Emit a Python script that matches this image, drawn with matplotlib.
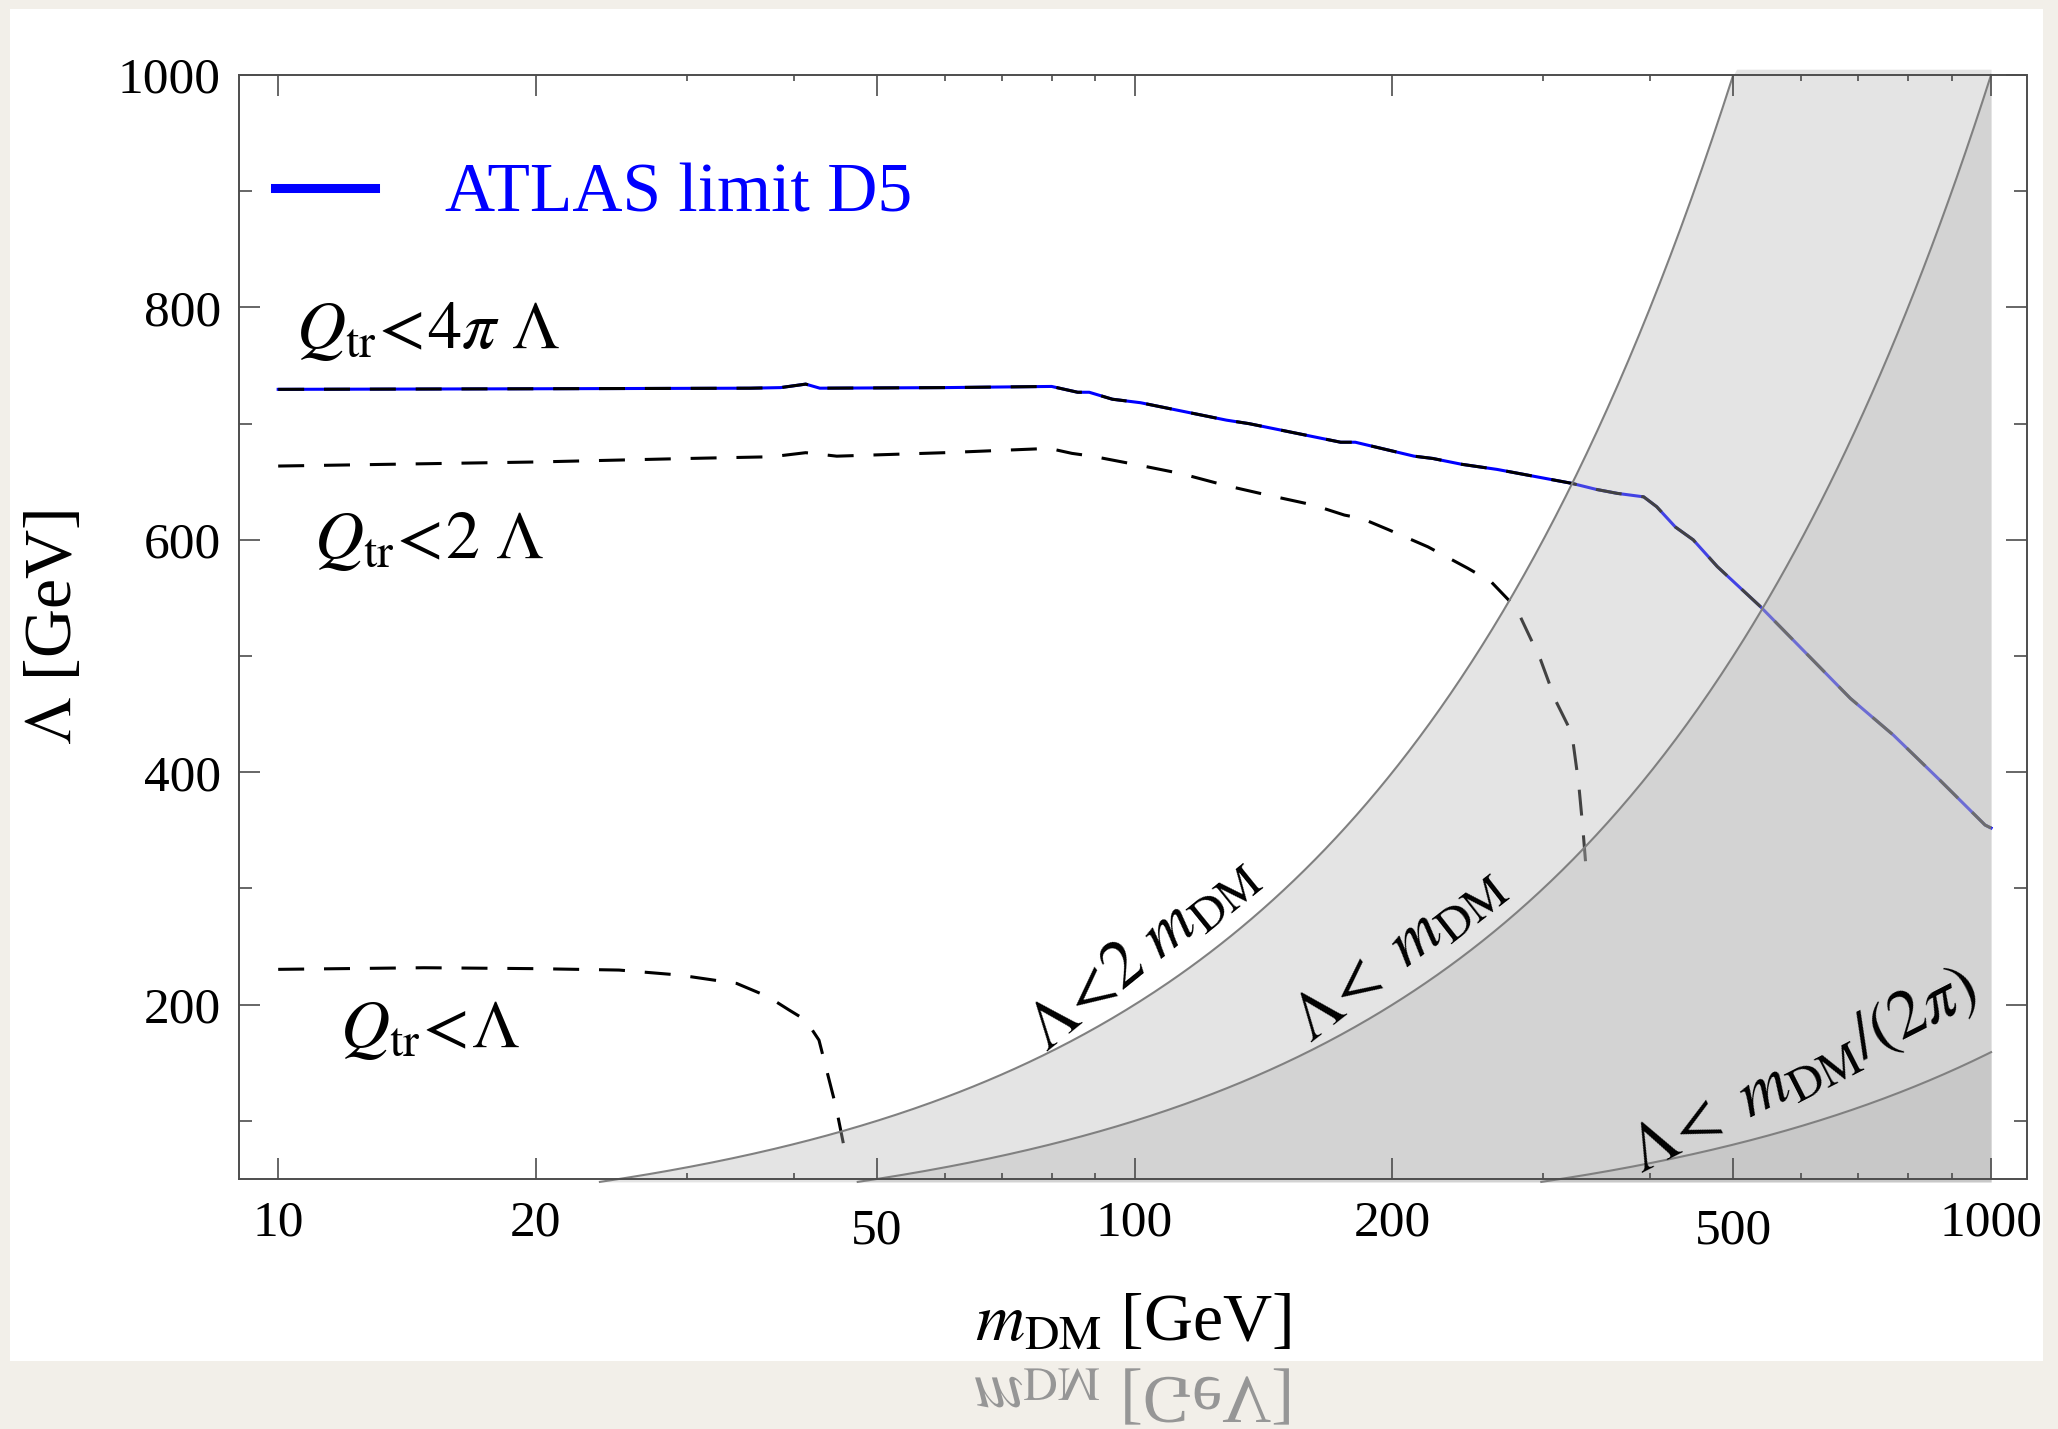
import numpy as np
import matplotlib
matplotlib.use("Agg")
import matplotlib.pyplot as plt
from matplotlib.lines import Line2D
from matplotlib.patches import Rectangle, PathPatch
from matplotlib.textpath import TextPath
from matplotlib.font_manager import FontProperties
from matplotlib.transforms import Affine2D, IdentityTransform, ScaledTranslation
from matplotlib.ticker import FixedLocator, NullFormatter

plt.rcParams['font.family'] = ['Liberation Serif', 'DejaVu Serif']
plt.rcParams['mathtext.fontset'] = 'stix'

# ATLAS D5 limit (coincides with the Q_tr < 4 pi Lambda curve)
atlas_m = [10, 20, 35.6, 38.6, 41.3, 42.9, 60, 80, 85.8, 88.5, 94.2, 101.6, 128, 136,
           174, 181, 212, 223, 241, 265, 324, 346, 366, 393, 407, 428, 449, 479,
           538, 609, 685, 769, 872, 984, 1000]
atlas_lam = [729.5, 730, 730.5, 731, 734, 730.5, 731, 732, 727, 727, 721, 718, 703, 700,
             684, 684, 672, 670, 665, 660.6, 648.6, 643.4, 640, 637, 628.5, 611, 600, 577,
             542.5, 502, 463.6, 432, 393, 354.6, 352]

# Q_tr < 2 Lambda
q2_m = [10, 20, 30, 37.7, 41.3, 44.9, 60, 79.5, 84.5, 89.2, 101.6, 113.3, 128, 142.8,
        161.6, 175.8, 184, 197.5, 220, 245, 260.7, 273.5, 282, 297.8, 310, 324, 330,
        333.6, 337]
q2_lam = [663.5, 667, 670, 671.5, 675, 672, 675, 678.7, 674.4, 672, 664, 657, 646.6, 638.6,
          630, 621.3, 618.5, 609, 594, 575.5, 564, 548, 534, 497, 462, 433.5, 390,
          353, 313]

# Q_tr < Lambda
q1_m = [10, 14.8, 20, 25, 29.4, 34.3, 37.3, 39.5, 41.3, 42.8, 44.8, 45.7]
q1_lam = [230.4, 231.8, 231, 229.8, 225.5, 218.3, 207, 195.4, 186.7, 169.5, 112.2, 80.6]

# excluded regions Lambda < ratio * m_DM
band_ratio = [2.0, 1.0, 1.0 / (2 * np.pi)]
band_labels = [r"$\Lambda\!<\!2\ m_{\rm DM}$", r"$\Lambda\!<\ m_{\rm DM}$",
               r"$\Lambda\!<\ m_{\rm DM}/(2\pi)$"]
band_label_pos = [(102, 244, 39), (203, 244, 38), (603, 142, 27)]

x_major = [10, 20, 50, 100, 200, 500, 1000]
x_minor = [30, 40, 60, 70, 80, 90, 300, 400, 600, 700, 800, 900]
y_major = [200, 400, 600, 800, 1000]
y_minor = [100, 300, 500, 700, 900]

W, H, DPI = 2058, 1429, 100
fig = plt.figure(figsize=(W / DPI, H / DPI), dpi=DPI, facecolor='#f2efe9')
fig.patches.append(Rectangle((10 / W, 1 - 1361 / H), 2033 / W, 1352 / H,
                             transform=fig.transFigure, facecolor='white',
                             edgecolor='none', zorder=-5))

ax = fig.add_axes([239 / W, 1 - 1179 / H, 1787.5 / W, 1104 / H])
ax.set_xscale('log')
ax.set_xlim(9, 1100)
ax.set_ylim(50, 1000)

# data curves
lw = 2.2
dash = (8.5, 6.5)
ax.plot(atlas_m, atlas_lam, color='blue', lw=lw, zorder=2)
ax.plot(atlas_m, atlas_lam, color='black', lw=lw, dashes=dash, zorder=2)
ax.plot(q2_m, q2_lam, color='black', lw=lw, dashes=dash, zorder=2)
ax.plot(q1_m, q1_lam, color='black', lw=lw, dashes=dash, zorder=2)

# translucent shaded bands on top of the curves
for r in band_ratio:
    xs = np.geomspace(47.5 / r, 1000, 400)
    top = np.minimum(r * xs, 1005)
    fb = ax.fill_between(xs, 47.5, top, color='#b6b6b6', alpha=0.37, lw=0, zorder=3)
    fb.set_clip_on(False)
    xl = xs[r * xs <= 1005]
    ax.plot(xl, r * xl, color='#808080', lw=1.5, zorder=4, clip_on=False)

for lab, (xm, yl, rot) in zip(band_labels, band_label_pos):
    ax.text(xm, yl, lab, fontsize=49, rotation=rot, rotation_mode='anchor',
            ha='center', va='center', zorder=6)

ax.text(10.5, 765, r"$Q_{\rm tr}\!<\!4\pi\ \Lambda$", fontsize=49, zorder=6)
ax.text(11.0, 584, r"$Q_{\rm tr}\!<\!2\ \Lambda$", fontsize=49, zorder=6)
ax.text(11.8, 164, r"$Q_{\rm tr}\!<\!\Lambda$", fontsize=49, zorder=6)

ax.legend(handles=[Line2D([], [], color='blue', lw=6.5)], labels=['ATLAS limit D5'],
          loc='upper left', bbox_to_anchor=(0.02, 0.92), frameon=False,
          fontsize=50, labelcolor='blue', handlelength=1.45, handletextpad=1.0,
          borderpad=0, borderaxespad=0)

# axes styling
ax.xaxis.set_major_locator(FixedLocator(x_major))
ax.xaxis.set_minor_locator(FixedLocator(x_minor))
ax.xaxis.set_minor_formatter(NullFormatter())
ax.set_xticklabels([str(v) for v in x_major])
ax.yaxis.set_major_locator(FixedLocator(y_major))
ax.yaxis.set_minor_locator(FixedLocator(y_minor))
ax.tick_params(which='both', direction='in', top=True, right=True,
               color='#4d4d4d', width=1.2, labelsize=37)
ax.tick_params(which='major', length=15)
ax.tick_params(axis='x', which='minor', length=4.5)
ax.tick_params(axis='y', which='minor', length=9.4)
ax.tick_params(axis='x', which='major', pad=15)
ax.tick_params(axis='y', which='major', pad=13)
for s in ax.spines.values():
    s.set_color('#4d4d4d')
    s.set_linewidth(1.4)
    s.set_zorder(5)
ax.xaxis.set_zorder(5)
ax.yaxis.set_zorder(5)

shift = ScaledTranslation(0, -8 / DPI, fig.dpi_scale_trans)
for lbl in ax.get_xticklabels():
    if lbl.get_text() in ('50', '500'):
        lbl.set_transform(lbl.get_transform() + shift)

xlab = r"$m_{\rm DM}$ [GeV]"
ax.set_xlabel(xlab, fontsize=49)
ax.xaxis.set_label_coords(0.5, -0.103)
ax.set_ylabel(r"$\Lambda$ [GeV]", fontsize=49)
ax.yaxis.set_label_coords(-0.086, 0.5)

# mirrored reflection of the x label below the slide panel
tp = TextPath((0, 0), xlab, size=49 * DPI / 72, prop=FontProperties(family='Liberation Serif'))
ext = tp.get_extents()
tr = Affine2D().scale(1, -1).translate(1132 - ext.x0 - ext.width / 2, H - 1377)
refl = PathPatch(tr.transform_path(tp), facecolor='#969696', edgecolor='none',
                 transform=IdentityTransform())
fig.add_artist(refl)

fig.savefig('out.png', dpi=DPI, facecolor=fig.get_facecolor())
